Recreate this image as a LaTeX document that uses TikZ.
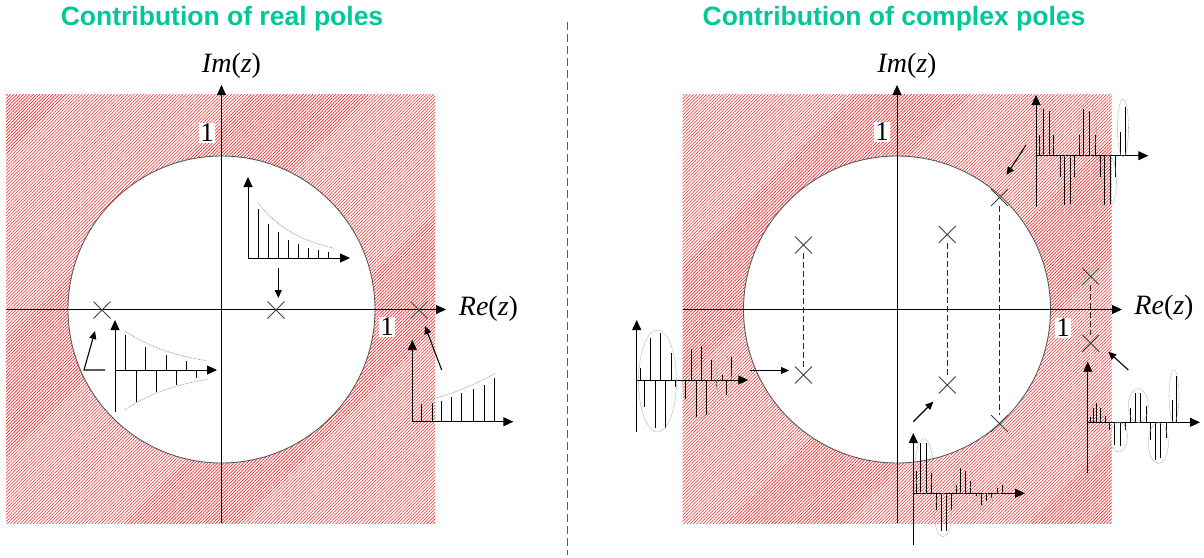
\documentclass[tikz,border=0pt]{standalone}
\usepackage{fontspec}
\setmainfont{Liberation Serif}
\newfontfamily\titlefont{Liberation Sans}
\usetikzlibrary{arrows.meta,patterns.meta,shapes.misc}
\definecolor{titlegreen}{RGB}{0,200,150}
\definecolor{hatchred}{RGB}{238,40,40}
\begin{document}
\begin{tikzpicture}[x=1pt,y=-1pt,
  hatch/.style={pattern={Lines[angle=45,distance=2.3pt,line width=0.6pt]},pattern color=hatchred},
  unitcircle/.style={fill=white,draw=black!65,line width=0.9pt},
  axis/.style={line width=0.9pt,-{Triangle[length=10pt,width=9pt]}},
  pointer/.style={line width=1.1pt,-{Triangle[length=8pt,width=7pt]}},
  stem/.style={line width=1pt},
  env/.style={draw=black!40,line width=0.7pt,dash pattern=on 0.8pt off 0.8pt},
  lobe/.style={draw=black!35,line width=0.6pt,dash pattern=on 0.7pt off 0.7pt},
  pole/.style={cross out,draw=black!75,line width=0.9pt,minimum size=16pt,inner sep=0pt},
  conj/.style={draw=black!85,line width=1pt,dash pattern=on 6pt off 3pt},
  sep/.style={draw=black!65,line width=1pt,dash pattern=on 8pt off 4pt},
  onelabel/.style={fill=white,inner sep=1pt,font=\fontsize{27}{27}\selectfont},
  axlabel/.style={font=\fontsize{28}{28}\selectfont,inner sep=0pt},
  title/.style={font=\titlefont\bfseries\fontsize{26.5}{26.5}\selectfont,text=titlegreen,inner sep=0pt},
]
\useasboundingbox (0,0) rectangle (1204,557);

% hatched regions and unit circles
\path[hatch] (6,94) rectangle (435,523);
\path[hatch] (682.5,94) rectangle (1111.5,523);
\draw[unitcircle] (221.5,309.5) circle [radius=153.5];
\draw[unitcircle] (897,309.5) circle [radius=153.5];

% titles and separator
\node[title] (t1) at (222,19) {Contribution of real poles};
\node[title] (t2) at (894,19) {Contribution of complex poles};
\coordinate (s1) at (567,22);
\coordinate (s2) at (567,555);
\draw[sep] (s1) -- (s2);

% main axes
\coordinate (LxS) at (6,309.5);   \coordinate (LxE) at (446,309.5);
\coordinate (LyS) at (221.5,523); \coordinate (LyE) at (221.5,85);
\coordinate (RxS) at (682.5,309.5); \coordinate (RxE) at (1122,309.5);
\coordinate (RyS) at (897,523);     \coordinate (RyE) at (897,85);
\draw[axis] (LxS) -- (LxE);
\draw[axis] (LyS) -- (LyE);
\draw[axis] (RxS) -- (RxE);
\draw[axis] (RyS) -- (RyE);

\node[axlabel] (imL) at (231.5,66) {\textit{Im}(\textit{z})};
\node[axlabel] (reL) at (488.5,309) {\textit{Re}(\textit{z})};
\node[axlabel] (imR) at (907,66) {\textit{Im}(\textit{z})};
\node[axlabel] (reR) at (1164,308) {\textit{Re}(\textit{z})};
\node[onelabel] (oneLt) at (207,133) {1};
\node[onelabel] (oneLr) at (387,327) {1};
\node[onelabel] (oneRt) at (882,132) {1};
\node[onelabel] (oneRr) at (1063,328) {1};

% ---------- left panel: real poles ----------
\node[pole] (p1) at (102,310) {};
\node[pole] (p2) at (276,310) {};
\node[pole] (p3) at (419,310) {};

% inset: positive decaying
\coordinate (i1o) at (248,258);
\draw[axis] (i1o) -- (248,177);
\draw[axis] (i1o) -- (350,258);
\foreach \x/\h in {258/49,268.3/34,278.5/26,288.7/18.3,298.7/14,308.7/10,318.7/8,328.7/6.3}
  \draw[stem] (\x,258) -- (\x,{258-(\h)});
\draw[env] plot[domain=258:334,samples=30] (\x,{258-55*exp(-(\x-258)/44)});
\coordinate (a1s) at (278.3,268);
\coordinate (a1e) at (278.3,298);
\draw[pointer] (a1s) -- (a1e);

% inset: alternating decaying
\coordinate (i2o) at (115,370);
\draw[axis] (115,412) -- (115,320);
\draw[axis] (i2o) -- (217,370);
\foreach \x/\h in {125/35,136/-31.7,145/23.3,156/-21.7,166/15,176.7/-15,186.7/9,196.7/-8.3}
  \draw[stem] (\x,370) -- (\x,{370-(\h)});
\draw[env] plot[domain=125:207,samples=30] (\x,{370-39*exp(-(\x-125)/57)});
\draw[env] plot[domain=125:207,samples=30] (\x,{370+40*exp(-(\x-125)/57)});
\coordinate (a2h) at (105,370);
\coordinate (a2s) at (84,370);
\coordinate (a2e) at (95,331);
\draw[pointer] (a2h) -- (a2s) -- (a2e);

% inset: growing
\coordinate (i3o) at (412.3,421.7);
\draw[axis] (i3o) -- (412.3,340);
\draw[axis] (i3o) -- (513.3,421.7);
\foreach \x/\h in {421.7/17.7,432.3/19,441.7/21,451.7/25,461.7/28.3,473.3/32.3,484/36.7,494.3/43.3}
  \draw[stem] (\x,421.7) -- (\x,{421.7-(\h)});
\draw[env] plot[domain=421.7:495,samples=30] (\x,{421.7-20*exp((\x-421.7)/83)});
\coordinate (a3s) at (441.7,370);
\coordinate (a3e) at (425,326);
\draw[pointer] (a3s) -- (a3e);

% ---------- right panel: complex poles ----------
\node[pole] (A)  at (803.5,245) {};
\node[pole] (A2) at (803.5,375) {};
\node[pole] (B)  at (947.3,234.5) {};
\node[pole] (B2) at (947.3,385) {};
\node[pole] (C)  at (999.5,197.5) {};
\node[pole] (C2) at (999.5,423.5) {};
\node[pole] (D)  at (1090.7,276.5) {};
\node[pole] (D2) at (1090.7,343.3) {};
\draw[conj] (A) -- (A2);
\draw[conj] (B) -- (B2);
\draw[conj] (C) -- (C2);
\draw[conj] (D) -- (D2);

% inset R1: decaying oscillation (left)
\coordinate (r1o) at (636.7,380);
\draw[axis] (636.7,431.7) -- (636.7,320);
\draw[axis] (r1o) -- (748.3,380);
\foreach \x/\h in {640/12,644/-27,650.7/42,655/-48,660/47,665/-48,671/27,675/-7,685.7/-19,691.7/31,696.7/-37,701/34,706.7/-35,711.7/20,716.7/-7,722.7/5,726.7/-15,731.7/23}
  \draw[stem] (\x,380) -- (\x,{380-(\h)});
\draw[lobe] (657.5,381) ellipse [x radius=19,y radius=51];
\draw[lobe] (699.7,380) ellipse [x radius=17,y radius=38];
\draw[lobe] (724,378) ellipse [x radius=7.5,y radius=23];
\coordinate (b1s) at (750,370.5);
\coordinate (b1e) at (789,370.5);
\draw[pointer] (b1s) -- (b1e);

% inset R2: decaying oscillation (bottom)
\coordinate (r2o) at (913.3,493.3);
\draw[axis] (913.3,545) -- (913.3,433);
\draw[axis] (r2o) -- (1025,493.3);
\foreach \x/\h in {916/22,920.7/50,926.7/50,931/20,936/-17,941/-38,946/-38,951/-17,956/8,960/25,965/22,970/12,976/-3,981/-12,986/-8,991/-5,997.7/5,1002.7/8}
  \draw[stem] (\x,493.3) -- (\x,{493.3-(\h)});
\draw[lobe] (924,466.7) ellipse [x radius=9,y radius=28];
\draw[lobe] (943,515) ellipse [x radius=8.5,y radius=22];
\draw[lobe] (963.3,477.5) ellipse [x radius=9,y radius=16];
\draw[lobe] (985,501.7) ellipse [x radius=8,y radius=8.5];
\draw[lobe] (1000,488) ellipse [x radius=4,y radius=6];
\coordinate (b2s) at (913.3,421.7);
\coordinate (b2e) at (933.3,401.7);
\draw[pointer] (b2s) -- (b2e);

% inset R3: sustained oscillation (top right)
\coordinate (r3o) at (1036,155.7);
\draw[axis] (1036,206.7) -- (1036,95);
\draw[axis] (r3o) -- (1148.3,155.7);
\foreach \x/\h in {1039.3/21,1043.3/47,1049.3/45,1053.3/21,1060/-21,1064/-49,1070/-48,1074/-21,1079.3/21,1083.3/47,1089.3/45,1095/21,1100/-21,1104.3/-49,1110/-48,1115/-21,1120/24,1125/49}
  \draw[stem] (\x,155.7) -- (\x,{155.7-(\h)});
\draw[lobe] (1046.5,130) ellipse [x radius=8.5,y radius=27];
\draw[lobe] (1067,181.5) ellipse [x radius=8.5,y radius=27];
\draw[lobe] (1087.5,129.5) ellipse [x radius=9,y radius=27.5];
\draw[lobe] (1107.5,182) ellipse [x radius=9,y radius=27];
\draw[lobe] (1123,128) ellipse [x radius=5.5,y radius=29];
\coordinate (b3s) at (1026,145);
\coordinate (b3e) at (1006.5,175);
\draw[pointer] (b3s) -- (b3e);

% inset R4: growing oscillation (right)
\coordinate (r4o) at (1087.7,422.3);
\draw[axis] (1087.7,473.3) -- (1087.7,361.7);
\draw[axis] (r4o) -- (1200,422.3);
\foreach \x/\h in {1090/5,1093.3/14,1096/19,1100.7/14,1105/6,1109.3/-8,1114/-23,1120/-24,1125/-8,1130.7/14,1135/29,1140/29,1146/16,1150/-18,1155/-38,1160/-36,1166/-16,1172.7/22,1176.7/46}
  \draw[stem] (\x,422.3) -- (\x,{422.3-(\h)});
\draw[lobe] (1097,412) ellipse [x radius=6,y radius=10];
\draw[lobe] (1118.7,437) ellipse [x radius=8.7,y radius=15];
\draw[lobe] (1138.3,405.7) ellipse [x radius=10,y radius=17];
\draw[lobe] (1158.3,443) ellipse [x radius=10,y radius=20.5];
\draw[lobe] (1174,396) ellipse [x radius=5,y radius=26];
\coordinate (b4s) at (1128.3,370);
\coordinate (b4e) at (1108.3,351.7);
\draw[pointer] (b4s) -- (b4e);
\end{tikzpicture}
\end{document}
